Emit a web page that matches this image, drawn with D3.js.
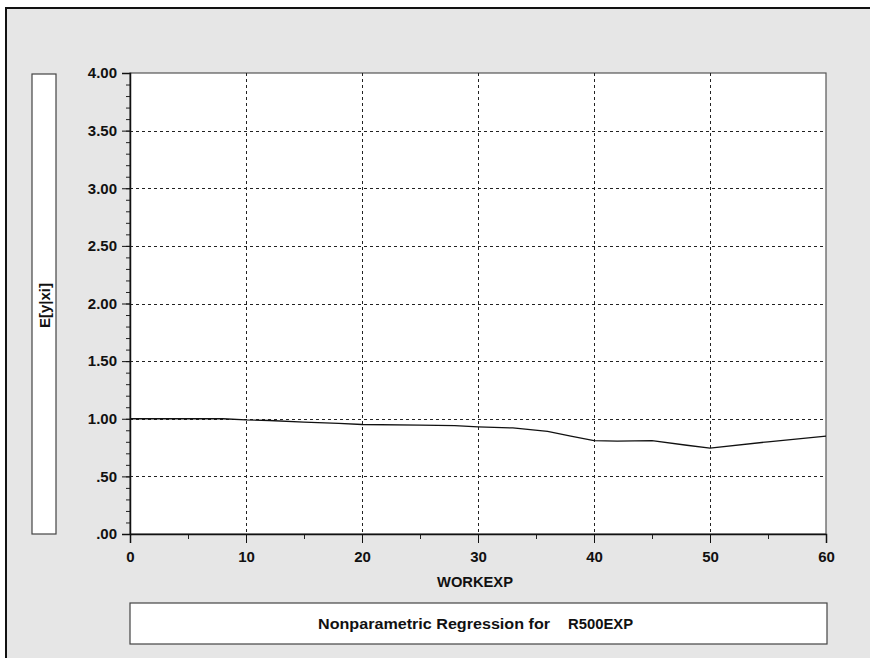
<!DOCTYPE html>
<html>
<head>
<meta charset="utf-8">
<script src="https://cdn.jsdelivr.net/npm/d3@7"></script>
<style>
  html, body { margin: 0; background: #fff; overflow: hidden; }
  svg { display: block; }
  text { font-family: "Liberation Sans", Arial, sans-serif; font-weight: bold; fill: #111; }
</style>
</head>
<body>
<div id="chart"></div>
<script>
// regression curve
const workexp = [0, 8, 10, 12, 15, 18, 20, 25, 28, 30, 33, 36, 38, 40, 42, 45, 48, 50, 55, 60];
const eyx = [1.00, 1.00, 0.99, 0.985, 0.97, 0.96, 0.95, 0.945, 0.94, 0.93, 0.92, 0.89, 0.85, 0.81, 0.805, 0.81, 0.77, 0.745, 0.80, 0.85];

const xTicks = [0, 10, 20, 30, 40, 50, 60];
const yTicks = [0, 0.5, 1, 1.5, 2, 2.5, 3, 3.5, 4];
const xLabel = "WORKEXP";
const yLabel = "E[y|xi]";
const titleLeft = "Nonparametric Regression for";
const titleRight = "R500EXP";

const W = 870, H = 658;
const margin = { top: 73, right: 44, bottom: 124, left: 130 };
const width = W - margin.left - margin.right;
const height = H - margin.top - margin.bottom;

const svg = d3.select("#chart").append("svg")
    .attr("width", W)
    .attr("height", H);

// grey panel with the black edge on top / left
svg.append("rect").attr("x", 6).attr("y", 8).attr("width", W - 6).attr("height", H - 8).attr("fill", "#e6e6e6");
svg.append("path").attr("d", `M6,${H}V8H${W}`).attr("fill", "none").attr("stroke", "#111").attr("stroke-width", 2);

const xScale = d3.scaleLinear().domain([0, 60]).range([0, width]);
const yScale = d3.scaleLinear().domain([0, 4]).range([height, 0]);

const g = svg.append("g").attr("transform", `translate(${margin.left},${margin.top})`);

g.append("rect").attr("width", width).attr("height", height)
    .attr("fill", "#fff").attr("stroke", "#555").attr("stroke-width", 1.2);

// dashed grid
g.append("g").selectAll("line").data(yTicks.filter(d => d > 0 && d < 4)).join("line")
    .attr("x1", 0).attr("x2", width)
    .attr("y1", d => Math.round(yScale(d)) + 0.5).attr("y2", d => Math.round(yScale(d)) + 0.5)
    .attr("stroke", "#222").attr("stroke-dasharray", "3,3");
g.append("g").selectAll("line").data(xTicks.filter(d => d > 0 && d < 60)).join("line")
    .attr("y1", 0).attr("y2", height)
    .attr("x1", d => Math.round(xScale(d)) + 0.5).attr("x2", d => Math.round(xScale(d)) + 0.5)
    .attr("stroke", "#222").attr("stroke-dasharray", "3,3");

// y axis: major ticks every .5, minor every .1
const yFmt = d => d3.format(".2f")(d).replace(/^0/, "");
g.append("g")
    .call(d3.axisLeft(yScale).tickValues(d3.range(0, 4.001, 0.1)).tickSize(4).tickFormat(""))
    .call(a => a.select(".domain").remove())
    .selectAll("line").attr("stroke", "#222");
const yAxis = g.append("g")
    .call(d3.axisLeft(yScale).tickValues(yTicks).tickSize(8).tickPadding(5).tickFormat(yFmt));
yAxis.select(".domain").attr("stroke", "#111").attr("stroke-width", 1.5);
yAxis.selectAll("line").attr("stroke", "#111");
yAxis.selectAll("text").style("font-size", "15px").attr("fill", "#111");

// x axis: major every 10, minor at the fives
g.append("g").attr("transform", `translate(0,${height})`)
    .call(d3.axisBottom(xScale).tickValues(d3.range(5, 60, 10)).tickSize(5).tickFormat(""))
    .call(a => a.select(".domain").remove())
    .selectAll("line").attr("stroke", "#222");
const xAxis = g.append("g").attr("transform", `translate(0,${height})`)
    .call(d3.axisBottom(xScale).tickValues(xTicks).tickSize(9).tickPadding(8));
xAxis.select(".domain").attr("stroke", "#111").attr("stroke-width", 1.5);
xAxis.selectAll("line").attr("stroke", "#111");
xAxis.selectAll("text").style("font-size", "15px").attr("fill", "#111");

// curve
const line = d3.line().x((d, i) => xScale(workexp[i])).y(d => yScale(d));
g.append("path").datum(eyx)
    .attr("d", line)
    .attr("fill", "none").attr("stroke", "#111").attr("stroke-width", 1.3);

// axis title
svg.append("text").attr("x", 437).attr("y", 587)
    .attr("textLength", 76).attr("lengthAdjust", "spacingAndGlyphs")
    .style("font-size", "14px").text(xLabel);

// y label box
svg.append("rect").attr("x", 32).attr("y", 74).attr("width", 24).attr("height", 460)
    .attr("fill", "#fff").attr("stroke", "#444").attr("stroke-width", 1.2);
svg.append("text").attr("transform", "translate(50,328) rotate(-90)")
    .attr("textLength", 45).attr("lengthAdjust", "spacingAndGlyphs")
    .style("font-size", "14px").text(yLabel);

// title box
svg.append("rect").attr("x", 130).attr("y", 603).attr("width", 697).attr("height", 41)
    .attr("fill", "#fff").attr("stroke", "#444").attr("stroke-width", 1.2);
svg.append("text").attr("x", 318).attr("y", 629).style("font-size", "14px")
    .attr("textLength", 232).attr("lengthAdjust", "spacingAndGlyphs").text(titleLeft);
svg.append("text").attr("x", 568).attr("y", 629).style("font-size", "14px")
    .attr("textLength", 65).attr("lengthAdjust", "spacingAndGlyphs").text(titleRight);
</script>
</body>
</html>
